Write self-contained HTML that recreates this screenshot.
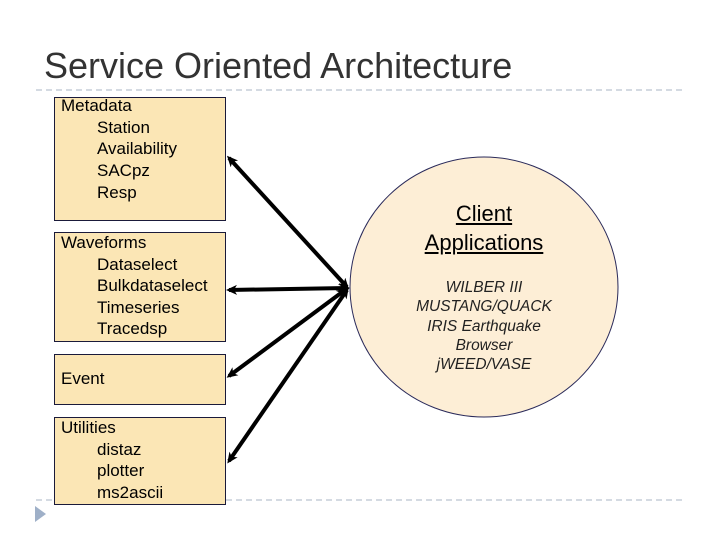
<!DOCTYPE html>
<html><head><style>
body{margin:0;width:720px;height:540px;background:#fff;position:relative;overflow:hidden;font-family:"Liberation Sans",Arial,sans-serif;}
.t{position:absolute;left:44px;top:45px;font-size:36px;color:#333;}
.b{position:absolute;left:54px;width:172px;background:#fbe6b5;border:1.5px solid #1a1a3a;font-size:17px;line-height:21.5px;color:#000;box-sizing:border-box;padding-left:6px;}
.b div{padding-left:36px;}
svg{position:absolute;left:0;top:0;}
.c{position:absolute;left:350px;width:268px;text-align:center;}
</style></head><body>
<div class="t">Service Oriented Architecture</div>
<svg width="720" height="540">
<line x1="36" y1="90" x2="686" y2="90" stroke="#a8b4c4" stroke-dasharray="6,4"/>
<line x1="36" y1="500" x2="686" y2="500" stroke="#a8b4c4" stroke-dasharray="6,4"/>
<polygon points="35,506 46,514 35,522" fill="#9fb0c8"/>
<ellipse cx="484" cy="287" rx="134" ry="130" fill="#fdeed6" stroke="#2a2a5a" stroke-width="1"/>
<defs><marker id="a" markerWidth="11" markerHeight="11" refX="8" refY="5" orient="auto-start-reverse" markerUnits="userSpaceOnUse"><path d="M0,0 L11,5 L0,10 L3,5 Z" fill="#000"/></marker></defs>
<g stroke="#000" stroke-width="4" marker-start="url(#a)" marker-end="url(#a)">
<line x1="347" y1="287" x2="229" y2="158"/>
<line x1="347" y1="288" x2="229" y2="290"/>
<line x1="345" y1="290" x2="229" y2="376"/>
<line x1="347" y1="290" x2="229" y2="461"/>
</g>
</svg>
<div class="c" style="top:200px;font-size:22px;line-height:28.5px;text-decoration:underline;">Client<br>Applications</div>
<div class="c" style="top:278px;font-size:15.5px;line-height:19.3px;font-style:italic;color:#222;">WILBER III<br>MUSTANG/QUACK<br>IRIS Earthquake<br>Browser<br>jWEED/VASE</div>
<div class="b" style="top:97px;height:124px;line-height:21.7px;padding-top:0;"><div style="padding-left:0;margin-top:-3px">Metadata</div><div>Station</div><div>Availability</div><div>SACpz</div><div>Resp</div></div>
<div class="b" style="top:232px;height:110px;"><div style="padding-left:0;margin-top:-1px">Waveforms</div><div>Dataselect</div><div>Bulkdataselect</div><div>Timeseries</div><div>Tracedsp</div></div>
<div class="b" style="top:354px;height:51px;padding-top:13px;">Event</div>
<div class="b" style="top:417px;height:88px;"><div style="padding-left:0;margin-top:-1px">Utilities</div><div>distaz</div><div>plotter</div><div>ms2ascii</div></div>
</body></html>
